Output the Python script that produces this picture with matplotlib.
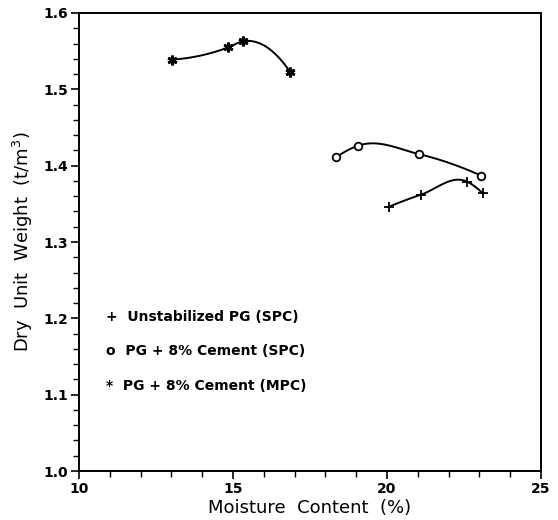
import numpy as np
import matplotlib
matplotlib.use("Agg")
import matplotlib.pyplot as plt
from matplotlib.ticker import MultipleLocator

# moisture content (%) vs dry unit weight (t/m3)
mc_unstab = [20.05, 21.1, 22.6, 23.1]
dw_unstab = [1.346, 1.362, 1.379, 1.364]

mc_spc = [18.35, 19.05, 21.05, 23.05]
dw_spc = [1.411, 1.426, 1.415, 1.387]

mc_mpc = [13.03, 14.85, 15.33, 16.85]
dw_mpc = [1.539, 1.555, 1.563, 1.523]

legend_labels = ["+  Unstabilized PG (SPC)",
                 "o  PG + 8% Cement (SPC)",
                 "*  PG + 8% Cement (MPC)"]

plt.rcParams['font.family'] = ['DejaVu Sans']

fig = plt.figure(figsize=(5.58, 5.2), dpi=100)
ax = fig.add_axes([0.1416, 0.0942, 0.828, 0.8808])


def smooth(x, y):
    # hermite curve with Bessel tangents through the measured points
    x = np.asarray(x, float)
    y = np.asarray(y, float)
    h = np.diff(x)
    d = np.diff(y) / h
    n = len(x)
    m = np.zeros(n)
    for i in range(1, n - 1):
        m[i] = (h[i] * d[i - 1] + h[i - 1] * d[i]) / (h[i - 1] + h[i])
    m[0] = ((2 * h[0] + h[1]) * d[0] - h[0] * d[1]) / (h[0] + h[1])
    m[-1] = ((2 * h[-1] + h[-2]) * d[-1] - h[-1] * d[-2]) / (h[-1] + h[-2])
    xs, ys = [], []
    for i in range(n - 1):
        t = np.linspace(0, 1, 40)
        h00 = 2 * t**3 - 3 * t**2 + 1
        h10 = t**3 - 2 * t**2 + t
        h01 = -2 * t**3 + 3 * t**2
        h11 = t**3 - t**2
        xs.append(x[i] + t * h[i])
        ys.append(h00 * y[i] + h10 * h[i] * m[i] + h01 * y[i + 1] + h11 * h[i] * m[i + 1])
    return np.concatenate(xs), np.concatenate(ys)


for x, y, mk, ms, mew in [(mc_unstab, dw_unstab, "+", 7, 1.3),
                          (mc_spc, dw_spc, "o", 5.5, 1.3),
                          (mc_mpc, dw_mpc, (6, 2, 0), 7, 2.0)]:
    xs, ys = smooth(x, y)
    ax.plot(xs, ys, color="black", lw=1.4)
    ax.plot(x, y, ls="none", marker=mk, ms=ms, mew=mew,
            mec="black", mfc="white" if mk == "o" else "black")

ax.set_xlim(10, 25)
ax.set_ylim(1.0, 1.6)
ax.xaxis.set_major_locator(MultipleLocator(5))
ax.xaxis.set_minor_locator(MultipleLocator(1))
ax.yaxis.set_major_locator(MultipleLocator(0.1))
ax.yaxis.set_minor_locator(MultipleLocator(0.02))
ax.yaxis.set_major_formatter(plt.FormatStrFormatter("%.1f"))
ax.tick_params(which="major", direction="out", length=6, width=1.2,
               labelsize=10, pad=2)
ax.tick_params(which="minor", direction="out", length=4, width=1.0)
for lbl in ax.get_xticklabels() + ax.get_yticklabels():
    lbl.set_fontweight("bold")
for s in ax.spines.values():
    s.set_linewidth(1.4)

ax.set_xlabel("Moisture  Content  (%)", fontsize=13, labelpad=2)
ax.set_ylabel("Dry  Unit  Weight  (t/m$^3$)", fontsize=13, labelpad=6)

for i, t in enumerate(legend_labels):
    ax.text(0.058, 0.336 - i * 0.075, t, transform=ax.transAxes,
            fontsize=10, fontweight="bold", va="center")

fig.savefig("out.png", dpi=100)
